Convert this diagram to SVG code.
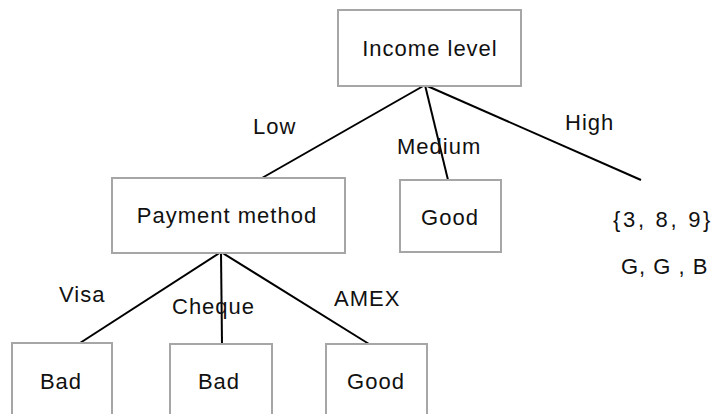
<svg xmlns="http://www.w3.org/2000/svg" width="717" height="414" viewBox="0 0 717 414">
<style>
.box{fill:#fff;stroke:#a6a6a6;stroke-width:2}
.t{font-family:"Liberation Sans",Arial,sans-serif;font-size:22px;fill:#111;letter-spacing:1px}
.c{text-anchor:middle}
.ln{stroke:#000;stroke-width:2;fill:none}
</style>
<rect width="717" height="414" fill="#fff"/>
<g id="connectors">
<line class="ln" x1="425" y1="85" x2="262" y2="178"/>
<line class="ln" x1="425" y1="85" x2="448" y2="180"/>
<line class="ln" x1="425" y1="85" x2="641" y2="180"/>
<line class="ln" x1="221" y1="252" x2="80" y2="343"/>
<line class="ln" x1="221" y1="252" x2="222" y2="344"/>
<line class="ln" x1="221" y1="252" x2="369" y2="344"/>
</g>
<g id="income"><rect class="box" x="338" y="10" width="183" height="76"/><text class="t c" x="430" y="56">Income level</text></g>
<g id="payment"><rect class="box" x="112" y="178" width="233" height="75"/><text class="t c" x="227" y="223">Payment method</text></g>
<g id="good1"><rect class="box" x="400" y="180" width="101" height="72"/><text class="t c" x="450" y="225">Good</text></g>
<g id="bad1"><rect class="box" x="12" y="343" width="100" height="80"/><text class="t c" x="61" y="389">Bad</text></g>
<g id="bad2"><rect class="box" x="170" y="344" width="102" height="80"/><text class="t c" x="219" y="389">Bad</text></g>
<g id="good2"><rect class="box" x="326" y="344" width="101" height="80"/><text class="t c" x="376" y="389">Good</text></g>
<g id="leaf"><text class="t" x="613" y="227" style="letter-spacing:2.7px">{3, 8, 9}</text><text class="t" x="621" y="274">G, G , B</text></g>
<g id="labels">
<text class="t" x="253" y="134">Low</text>
<text class="t" x="397" y="154">Medium</text>
<text class="t" x="565" y="130">High</text>
<text class="t" x="59" y="302">Visa</text>
<text class="t" x="172" y="314">Cheque</text>
<text class="t" x="334" y="306">AMEX</text>
</g>
</svg>
